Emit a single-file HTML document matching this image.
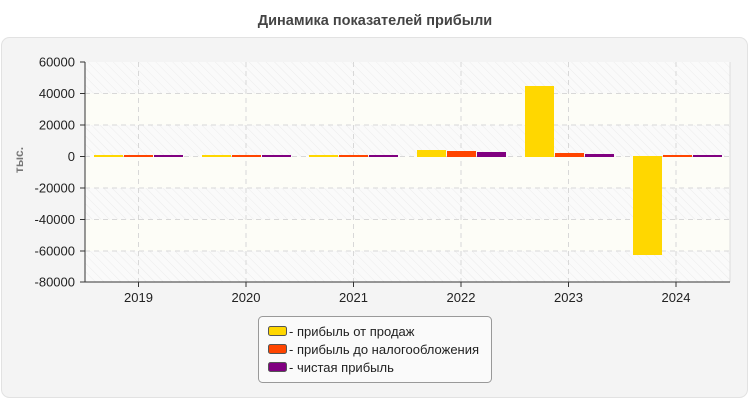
<!DOCTYPE html><html><head><meta charset="utf-8"><style>
body{margin:0;width:750px;height:400px;background:#fff;font-family:"Liberation Sans",sans-serif;overflow:hidden}
</style></head><body>
<svg width="750" height="400" xmlns="http://www.w3.org/2000/svg" font-family="Liberation Sans, sans-serif">
<defs><pattern id="h" width="6" height="6" patternUnits="userSpaceOnUse" patternTransform="rotate(-45)"><rect width="6" height="6" fill="#fafafa"/><line x1="0" y1="0" x2="0" y2="6" stroke="#ececec" stroke-width="1"/></pattern></defs>
<text x="375" y="25" text-anchor="middle" font-size="14.5" font-weight="bold" fill="#444">Динамика показателей прибыли</text>
<rect x="1.5" y="37.5" width="746" height="360" rx="8" fill="#f4f4f4" stroke="#e2e2e2"/>
<rect x="85" y="62" width="645" height="220" fill="url(#h)"/>
<rect x="85" y="93.5" width="645" height="31.5" fill="#fdfdf7"/>
<rect x="85" y="156.5" width="645" height="31.5" fill="#fdfdf7"/>
<rect x="85" y="219.5" width="645" height="31.5" fill="#fdfdf7"/>
<g stroke="#d8d8d8" stroke-dasharray="5,4">
<line x1="85" x2="730" y1="93.5" y2="93.5"/><line x1="85" x2="730" y1="125" y2="125"/><line x1="85" x2="730" y1="156.5" y2="156.5"/><line x1="85" x2="730" y1="188" y2="188"/><line x1="85" x2="730" y1="219.5" y2="219.5"/><line x1="85" x2="730" y1="251" y2="251"/>
<line x1="138.5" x2="138.5" y1="62" y2="282"/><line x1="246" x2="246" y1="62" y2="282"/><line x1="353.5" x2="353.5" y1="62" y2="282"/><line x1="461" x2="461" y1="62" y2="282"/><line x1="568.5" x2="568.5" y1="62" y2="282"/><line x1="676" x2="676" y1="62" y2="282"/>
</g>
<line x1="730" x2="730" y1="62" y2="282" stroke="#ddd"/>
<g>
<rect x="94" y="155" width="29" height="2" fill="#ffd700"/><rect x="124" y="155" width="29" height="2" fill="#ff4500"/><rect x="154" y="155" width="29" height="2" fill="#800080"/>
<rect x="202" y="155" width="29" height="2" fill="#ffd700"/><rect x="232" y="155" width="29" height="2" fill="#ff4500"/><rect x="262" y="155" width="29" height="2" fill="#800080"/>
<rect x="309" y="155" width="29" height="2" fill="#ffd700"/><rect x="339" y="155" width="29" height="2" fill="#ff4500"/><rect x="369" y="155" width="29" height="2" fill="#800080"/>
<rect x="417" y="150" width="29" height="7" fill="#ffd700"/><rect x="447" y="151" width="29" height="6" fill="#ff4500"/><rect x="477" y="152" width="29" height="5" fill="#800080"/>
<rect x="525" y="86" width="29" height="71" fill="#ffd700"/><rect x="555" y="153" width="29" height="4" fill="#ff4500"/><rect x="585" y="154" width="29" height="3" fill="#800080"/>
<rect x="633" y="156" width="29" height="99" fill="#ffd700"/><rect x="663" y="155" width="29" height="2" fill="#ff4500"/><rect x="693" y="155" width="29" height="2" fill="#800080"/>
</g>
<g stroke="#333"><line x1="85" x2="85" y1="62" y2="282"/><line x1="85" x2="730" y1="282" y2="282"/>
<line x1="80" x2="85" y1="62" y2="62"/><line x1="80" x2="85" y1="93.5" y2="93.5"/><line x1="80" x2="85" y1="125" y2="125"/><line x1="80" x2="85" y1="156.5" y2="156.5"/><line x1="80" x2="85" y1="188" y2="188"/><line x1="80" x2="85" y1="219.5" y2="219.5"/><line x1="80" x2="85" y1="251" y2="251"/><line x1="80" x2="85" y1="282" y2="282"/>
<line x1="138.5" x2="138.5" y1="282" y2="287"/><line x1="246" x2="246" y1="282" y2="287"/><line x1="353.5" x2="353.5" y1="282" y2="287"/><line x1="461" x2="461" y1="282" y2="287"/><line x1="568.5" x2="568.5" y1="282" y2="287"/><line x1="676" x2="676" y1="282" y2="287"/></g>
<g font-size="13" fill="#222" text-anchor="end">
<text x="75" y="66.5">60000</text><text x="75" y="98">40000</text><text x="75" y="129.5">20000</text><text x="75" y="161">0</text><text x="75" y="192.5">-20000</text><text x="75" y="224">-40000</text><text x="75" y="255.5">-60000</text><text x="75" y="286.5">-80000</text></g>
<g font-size="13" fill="#222" text-anchor="middle">
<text x="138.5" y="302">2019</text><text x="246" y="302">2020</text><text x="353.5" y="302">2021</text><text x="461" y="302">2022</text><text x="568.5" y="302">2023</text><text x="676" y="302">2024</text></g>
<text transform="translate(23,160) rotate(-90)" text-anchor="middle" font-size="12" font-weight="bold" fill="#777">тыс.</text>
<rect x="258.5" y="316.5" width="233" height="66" rx="4" fill="#fafafa" stroke="#999"/>
<g font-size="13" fill="#222">
<rect x="268.5" y="326.5" width="18" height="9" rx="2" fill="#ffd700" stroke="#555"/><text x="289" y="336">- прибыль от продаж</text>
<rect x="268.5" y="344.5" width="18" height="9" rx="2" fill="#ff4500" stroke="#555"/><text x="289" y="354">- прибыль до налогообложения</text>
<rect x="268.5" y="362.5" width="18" height="9" rx="2" fill="#800080" stroke="#555"/><text x="289" y="372">- чистая прибыль</text></g>
</svg>
</body></html>
